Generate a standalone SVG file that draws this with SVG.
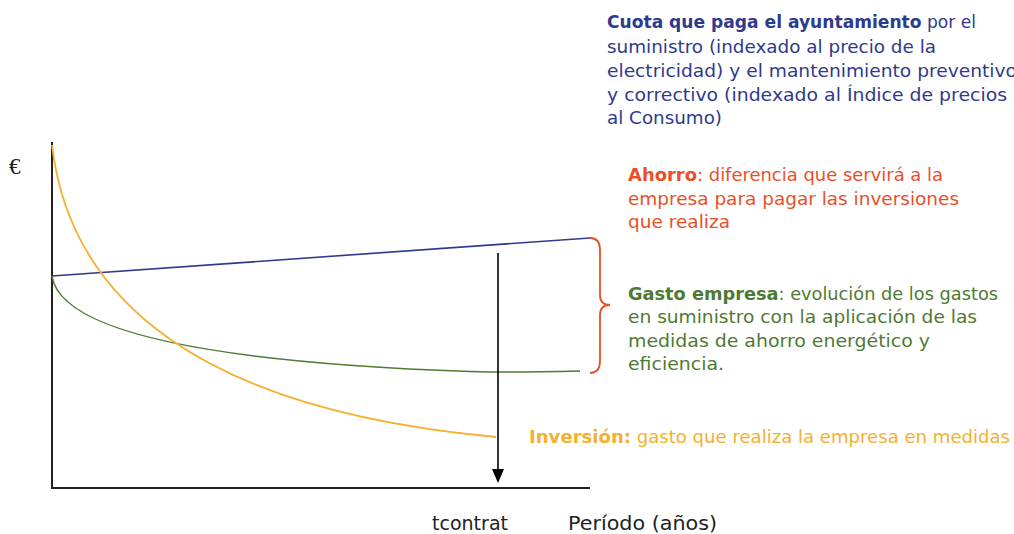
<svg xmlns="http://www.w3.org/2000/svg" width="1014" height="534" viewBox="0 0 1014 534">
<defs>
<style>
text{font-family:"DejaVu Sans","Liberation Sans",sans-serif;font-size:17px}
.b{font-weight:bold}
.blue{fill:#2E3A8C}
.red{fill:#E8502A}
.green{fill:#4E7A32}
.yel{fill:#F5B02E}
.k{fill:#222}
</style>
</defs>
<rect width="1014" height="534" fill="#fff"/>
<g id="axes">
<path d="M52,142 V488 H590" fill="none" stroke="#222" stroke-width="2"/>
<text x="9" y="174" style="font-family:'Liberation Serif',serif;font-size:23px" class="k">€</text>
</g>
<g id="connectors">
<path id="cuota-line" d="M52,276 L590,238" stroke="#2E3A8C" stroke-width="1.6" fill="none"/>
<path id="gasto-line" d="M52,276 C60,330 200,362 470,371.5 C500,372.5 560,371.5 580,371" stroke="#4E7A32" stroke-width="1.6" fill="none"/>
<path id="inversion-line" d="M52,145 C70,300 200,410 496,437" stroke="#F5B02E" stroke-width="1.8" fill="none"/>
<path id="tcontrat-arrow" d="M498,253 V472" stroke="#000" stroke-width="1.6" fill="none"/>
<path d="M492,469 L504,469 L498,483 Z" fill="#000"/>
<path id="brace" d="M590,238 Q600,238 600,250 V295 Q600,305 610,305 Q600,305 600,315 V361 Q600,373 590,373" stroke="#E8502A" stroke-width="1.8" fill="none"/>
</g>
<g id="cuota">
<text x="607" y="28" class="blue" textLength="369" lengthAdjust="spacingAndGlyphs"><tspan class="b">Cuota que paga el ayuntamiento</tspan> por el</text>
<text x="607" y="53" class="blue" textLength="329" lengthAdjust="spacingAndGlyphs">suministro (indexado al precio de la</text>
<text x="607" y="77" class="blue" textLength="410" lengthAdjust="spacingAndGlyphs">electricidad) y el mantenimiento preventivo</text>
<text x="607" y="101" class="blue" textLength="400" lengthAdjust="spacingAndGlyphs">y correctivo (indexado al Índice de precios</text>
<text x="607" y="124" class="blue" textLength="115" lengthAdjust="spacingAndGlyphs">al Consumo)</text>
</g>
<g id="ahorro">
<text x="628" y="181" class="red" textLength="315" lengthAdjust="spacingAndGlyphs"><tspan class="b">Ahorro</tspan>: diferencia que servirá a la</text>
<text x="628" y="205" class="red" textLength="331" lengthAdjust="spacingAndGlyphs">empresa para pagar las inversiones</text>
<text x="628" y="228" class="red" textLength="102" lengthAdjust="spacingAndGlyphs">que realiza</text>
</g>
<g id="gasto">
<text x="628" y="300" class="green" textLength="370" lengthAdjust="spacingAndGlyphs"><tspan class="b">Gasto empresa</tspan>: evolución de los gastos</text>
<text x="628" y="323" class="green" textLength="349" lengthAdjust="spacingAndGlyphs">en suministro con la aplicación de las</text>
<text x="628" y="347" class="green" textLength="302" lengthAdjust="spacingAndGlyphs">medidas de ahorro energético y</text>
<text x="628" y="370" class="green" textLength="96" lengthAdjust="spacingAndGlyphs">eficiencia.</text>
</g>
<g id="inversion">
<text x="529" y="443" class="yel" textLength="481" lengthAdjust="spacingAndGlyphs"><tspan class="b">Inversión:</tspan> gasto que realiza la empresa en medidas</text>
</g>
<g id="labels">
<text x="432" y="530" class="k" style="font-size:19px" textLength="76" lengthAdjust="spacingAndGlyphs">tcontrat</text>
<text x="568" y="530" class="k" style="font-size:19px" textLength="149" lengthAdjust="spacingAndGlyphs">Período (años)</text>
</g>
</svg>
